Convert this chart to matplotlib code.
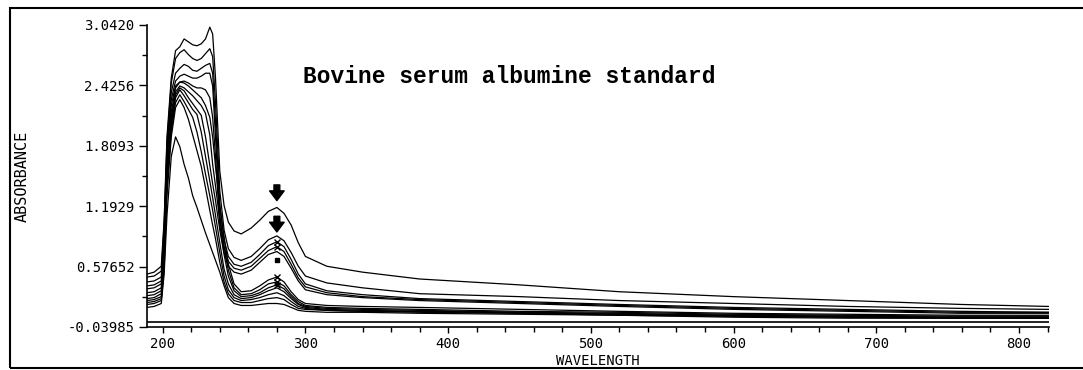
import matplotlib
matplotlib.use('Agg')
import matplotlib.pyplot as plt
from matplotlib.patches import Rectangle
from matplotlib.ticker import MultipleLocator, FixedLocator

# wavelength grid (nm) shared by all spectra
wl = [189, 194, 199, 201, 203, 206, 209, 212, 215, 218, 221, 224, 227, 230, 233, 235, 237, 240,
      243, 246, 250, 255, 262, 268, 274, 280, 285, 290, 295, 300, 315, 340, 380, 450, 520, 600,
      680, 760, 821]

# absorbance, highest concentration first
c1 = [0.50, 0.52, 0.58, 1.05, 1.90, 2.50, 2.78, 2.82, 2.90, 2.87, 2.84, 2.83, 2.85, 2.90, 3.02, 2.95,
      2.50, 1.55, 1.20, 1.03, 0.94, 0.91, 0.97, 1.05, 1.14, 1.18, 1.12, 1.00, 0.82, 0.68, 0.58, 0.52,
      0.45, 0.39, 0.32, 0.27, 0.23, 0.19, 0.17]
c2 = [0.47, 0.48, 0.53, 1.00, 1.85, 2.45, 2.70, 2.76, 2.79, 2.74, 2.70, 2.68, 2.70, 2.75, 2.80, 2.72,
      2.25, 1.35, 0.95, 0.76, 0.67, 0.64, 0.68, 0.76, 0.85, 0.89, 0.84, 0.72, 0.58, 0.48, 0.41, 0.36,
      0.30, 0.27, 0.23, 0.20, 0.17, 0.15, 0.14]
c3 = [0.42, 0.43, 0.47, 0.95, 1.75, 2.35, 2.55, 2.60, 2.64, 2.62, 2.58, 2.57, 2.60, 2.63, 2.65, 2.55,
      2.05, 1.20, 0.85, 0.68, 0.60, 0.58, 0.62, 0.70, 0.79, 0.83, 0.78, 0.65, 0.50, 0.40, 0.33, 0.29,
      0.25, 0.22, 0.19, 0.16, 0.14, 0.12, 0.11]
c4 = [0.38, 0.39, 0.43, 0.90, 1.70, 2.28, 2.47, 2.52, 2.54, 2.52, 2.50, 2.50, 2.52, 2.55, 2.55, 2.42,
      1.90, 1.10, 0.78, 0.63, 0.56, 0.54, 0.58, 0.66, 0.74, 0.78, 0.73, 0.60, 0.46, 0.37, 0.31, 0.27,
      0.24, 0.21, 0.18, 0.15, 0.13, 0.11, 0.11]
c5 = [0.35, 0.36, 0.40, 0.85, 1.65, 2.22, 2.42, 2.46, 2.47, 2.45, 2.42, 2.40, 2.40, 2.38, 2.30, 2.10,
      1.70, 1.00, 0.72, 0.58, 0.52, 0.50, 0.54, 0.62, 0.70, 0.73, 0.68, 0.56, 0.43, 0.34, 0.29, 0.26,
      0.23, 0.20, 0.17, 0.14, 0.12, 0.10, 0.10]
c6 = [0.31, 0.32, 0.36, 0.80, 1.60, 2.15, 2.40, 2.46, 2.45, 2.42, 2.38, 2.34, 2.30, 2.22, 2.10, 1.90,
      1.60, 1.20, 0.88, 0.60, 0.40, 0.32, 0.33, 0.38, 0.44, 0.47, 0.42, 0.32, 0.24, 0.20, 0.18, 0.17,
      0.16, 0.14, 0.12, 0.10, 0.09, 0.08, 0.08]
c7 = [0.28, 0.29, 0.33, 0.75, 1.55, 2.10, 2.36, 2.42, 2.40, 2.36, 2.32, 2.27, 2.22, 2.14, 1.92, 1.62,
      1.40, 1.05, 0.78, 0.54, 0.36, 0.29, 0.30, 0.34, 0.40, 0.42, 0.38, 0.29, 0.22, 0.18, 0.16, 0.15,
      0.14, 0.12, 0.11, 0.09, 0.08, 0.07, 0.07]
c8 = [0.25, 0.26, 0.30, 0.70, 1.50, 2.05, 2.33, 2.40, 2.37, 2.30, 2.24, 2.18, 2.12, 1.90, 1.61, 1.42,
      1.25, 0.95, 0.70, 0.48, 0.33, 0.27, 0.28, 0.31, 0.36, 0.39, 0.35, 0.27, 0.20, 0.17, 0.15, 0.14,
      0.13, 0.11, 0.10, 0.08, 0.07, 0.06, 0.06]
c9 = [0.23, 0.24, 0.27, 0.65, 1.45, 2.00, 2.30, 2.38, 2.32, 2.25, 2.18, 2.13, 1.95, 1.70, 1.45, 1.28,
      1.10, 0.82, 0.55, 0.40, 0.29, 0.25, 0.26, 0.29, 0.33, 0.36, 0.32, 0.25, 0.19, 0.16, 0.14, 0.13,
      0.12, 0.11, 0.09, 0.08, 0.07, 0.06, 0.06]
c10 = [0.21, 0.22, 0.25, 0.60, 1.40, 1.95, 2.25, 2.33, 2.26, 2.18, 2.10, 1.95, 1.75, 1.52, 1.30, 1.15,
       0.98, 0.72, 0.48, 0.34, 0.26, 0.23, 0.24, 0.26, 0.29, 0.31, 0.28, 0.22, 0.17, 0.15, 0.13, 0.12,
       0.12, 0.10, 0.09, 0.07, 0.06, 0.05, 0.05]
c11 = [0.19, 0.20, 0.23, 0.55, 1.30, 1.90, 2.20, 2.28, 2.20, 2.08, 1.92, 1.76, 1.60, 1.38, 1.15, 1.00,
       0.86, 0.62, 0.42, 0.30, 0.23, 0.21, 0.21, 0.23, 0.25, 0.26, 0.24, 0.19, 0.15, 0.14, 0.13, 0.12,
       0.11, 0.10, 0.08, 0.07, 0.06, 0.05, 0.05]
c12 = [0.16, 0.17, 0.20, 0.50, 1.10, 1.70, 1.90, 1.80, 1.62, 1.48, 1.30, 1.18, 1.05, 0.92, 0.80, 0.72,
       0.64, 0.52, 0.38, 0.26, 0.20, 0.18, 0.18, 0.19, 0.20, 0.20, 0.19, 0.16, 0.13, 0.12, 0.11, 0.11,
       0.10, 0.09, 0.08, 0.06, 0.05, 0.05, 0.05]
curves = [c1, c2, c3, c4, c5, c6, c7, c8, c9, c10, c11, c12]

# blank / baseline
blank_wl = [189, 821]
blank = [0.01, 0.01]

yticks = [-0.03985, 0.57652, 1.1929, 1.8093, 2.4256, 3.0420]
ytick_labels = ['-0.03985', '0.57652', '1.1929', '1.8093', '2.4256', '3.0420']
xticks = [200, 300, 400, 500, 600, 700, 800]

mono = 'DejaVu Sans Mono'

fig = plt.figure(figsize=(10.83, 3.70), dpi=100)
ax = fig.add_axes([147 / 1083, 1 - 327 / 370, (1049 - 147) / 1083, (327 - 25) / 370])

for c in curves:
    ax.plot(wl, c, color='black', lw=0.9)
ax.plot(blank_wl, blank, color='black', lw=1.2)

# peak markers at 280 nm
i280 = wl.index(280)
for c, dy in [(c1, 0.07), (c2, 0.04)]:
    ax.annotate('', xy=(280, c[i280] + dy), xytext=(280, c[i280] + dy + 0.16),
                arrowprops=dict(arrowstyle='simple,head_length=0.5,head_width=0.75,tail_width=0.3',
                                color='black', mutation_scale=14, shrinkA=0, shrinkB=0))
for c in [c3, c4, c6, c7, c8]:
    ax.plot(280, c[i280], marker='x', ms=4, color='black', mew=1)
ax.plot(280, (c5[i280] + c6[i280]) / 2 + 0.04, marker='s', ms=2.5, color='black')

ax.set_xlim(189, 821)
ax.set_ylim(-0.03985, 3.0420)
ax.spines['top'].set_visible(False)
ax.spines['right'].set_visible(False)
ax.spines['left'].set_linewidth(1.2)
ax.spines['bottom'].set_linewidth(1.2)

ax.yaxis.set_major_locator(FixedLocator(yticks))
ax.set_yticklabels(ytick_labels)
ax.yaxis.set_minor_locator(FixedLocator([(a + b) / 2 for a, b in zip(yticks[:-1], yticks[1:])]))
ax.xaxis.set_major_locator(FixedLocator(xticks))
ax.xaxis.set_minor_locator(MultipleLocator(20))
ax.tick_params(axis='both', which='major', direction='out', length=6, width=1,
               labelsize=10, pad=3)
ax.tick_params(axis='both', which='minor', direction='out', length=3.5, width=1)
ax.tick_params(axis='x', which='major', length=4.5, pad=3)
for lab in ax.get_xticklabels() + ax.get_yticklabels():
    lab.set_family(mono)

ax.set_xlabel('WAVELENGTH', family=mono, fontsize=10)
ax.xaxis.set_label_coords(0.5, -0.088)
ax.set_ylabel('ABSORBANCE', family=mono, fontsize=11)
ax.yaxis.set_label_coords(-0.130, 0.5)

ax.text(0.173, 0.828, 'Bovine serum albumine standard', transform=ax.transAxes,
        family='Liberation Mono', fontweight='bold', fontsize=16.5, va='center', ha='left')

# outer frame of the scanned figure
fig.patches.append(Rectangle((10 / 1083, 2 / 370), 1.2, 1 - 10 / 370, transform=fig.transFigure,
                             fill=False, edgecolor='black', lw=1.5, clip_on=True))

fig.savefig('out.png', dpi=100)
